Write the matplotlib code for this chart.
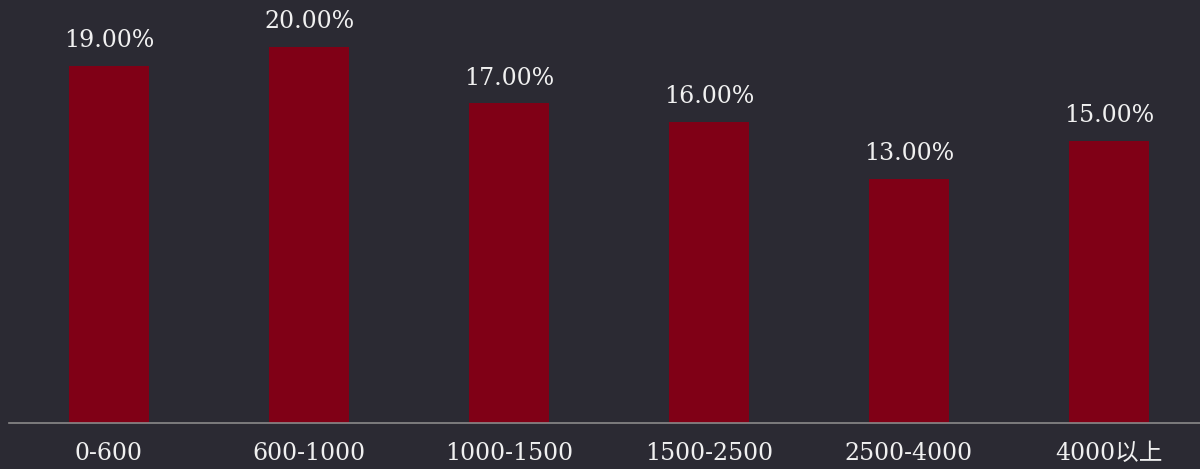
import matplotlib
matplotlib.use("Agg")
import matplotlib.pyplot as plt

categories = ["0-600", "600-1000", "1000-1500", "1500-2500", "2500-4000", "4000以上"]
values = [19.0, 20.0, 17.0, 16.0, 13.0, 15.0]

bg = "#2b2a33"
bar_color = "#800016"
fonts = ["DejaVu Serif", "Noto Sans CJK SC"]

W, H = 1200, 469
fig = plt.figure(figsize=(W / 100, H / 100), dpi=100, facecolor=bg)
left, right = 9, 1209
bottom_px = 423
ax = fig.add_axes([left / W, (H - bottom_px) / H, (right - left) / W, bottom_px / H])
ax.set_facecolor(bg)

x = list(range(len(categories)))
ax.bar(x, values, width=0.4, color=bar_color, zorder=2)
ax.set_xlim(-0.5, len(categories) - 0.5)
ax.set_ylim(0, 22.5)

for xi, v in zip(x, values):
    ax.annotate(f"{v:.2f}%", (xi, v), xytext=(0, 10), textcoords="offset points",
                ha="center", va="bottom", color="#f0f0f0", fontsize=17, family=fonts)

ax.set_xticks(x)
ax.set_xticklabels(categories, family=fonts, fontsize=17, color="#f0f0f0")
ax.tick_params(axis="x", length=0, pad=14)
ax.set_yticks([])
for s in ["top", "right", "left"]:
    ax.spines[s].set_visible(False)
ax.spines["bottom"].set_color("#8a8a8a")
ax.spines["bottom"].set_linewidth(1.2)

fig.savefig("out.png", dpi=100, facecolor=bg)
